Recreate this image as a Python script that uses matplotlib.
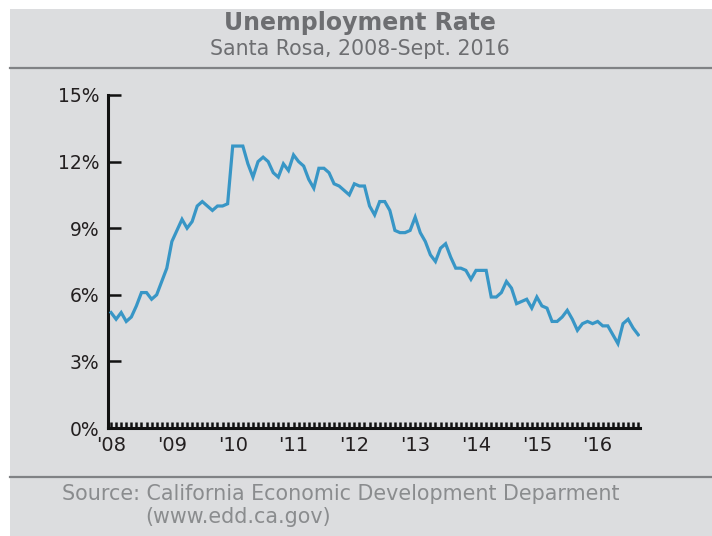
import numpy as np
import matplotlib.pyplot as plt
from matplotlib.patches import Rectangle
from matplotlib.lines import Line2D
from matplotlib.ticker import FixedLocator, FuncFormatter

# monthly unemployment rate, Santa Rosa (percent), Jan 2008 - Sep 2016
rate_2008 = [5.2, 4.9, 5.2, 4.8, 5.0, 5.5, 6.1, 6.1, 5.8, 6.0, 6.6, 7.2]
rate_2009 = [8.4, 8.9, 9.4, 9.0, 9.3, 10.0, 10.2, 10.0, 9.8, 10.0, 10.0, 10.1]
rate_2010 = [12.7, 12.7, 12.7, 11.9, 11.3, 12.0, 12.2, 12.0, 11.5, 11.3, 11.9, 11.6]
rate_2011 = [12.3, 12.0, 11.8, 11.2, 10.8, 11.7, 11.7, 11.5, 11.0, 10.9, 10.7, 10.5]
rate_2012 = [11.0, 10.9, 10.9, 10.0, 9.6, 10.2, 10.2, 9.8, 8.9, 8.8, 8.8, 8.9]
rate_2013 = [9.5, 8.8, 8.4, 7.8, 7.5, 8.1, 8.3, 7.7, 7.2, 7.2, 7.1, 6.7]
rate_2014 = [7.1, 7.1, 7.1, 5.9, 5.9, 6.1, 6.6, 6.3, 5.6, 5.7, 5.8, 5.4]
rate_2015 = [5.9, 5.5, 5.4, 4.8, 4.8, 5.0, 5.3, 4.9, 4.4, 4.7, 4.8, 4.7]
rate_2016 = [4.8, 4.6, 4.6, 4.2, 3.8, 4.7, 4.9, 4.5, 4.2]

years = [2008, 2009, 2010, 2011, 2012, 2013, 2014, 2015, 2016]
year_labels = ["'08", "'09", "'10", "'11", "'12", "'13", "'14", "'15", "'16"]
y_ticks = [0, 3, 6, 9, 12, 15]

rate = np.array(rate_2008 + rate_2009 + rate_2010 + rate_2011 + rate_2012
                + rate_2013 + rate_2014 + rate_2015 + rate_2016)
months = np.arange(len(rate))

W, H = 712, 536
plt.rcParams['font.family'] = ['DejaVu Sans']
fig = plt.figure(figsize=(W / 100, H / 100), dpi=100)
fig.patch.set_facecolor('white')


def fx(px):
    return px / W


def fy(py):
    return 1 - py / H


# gray panel and separator lines
fig.add_artist(Rectangle((fx(10), 0), 1 - fx(10), fy(9), transform=fig.transFigure,
                         facecolor='#dcdddf', edgecolor='none', zorder=0))
for yy in (68, 477):
    fig.add_artist(Line2D([fx(10), 1], [fy(yy), fy(yy)], transform=fig.transFigure,
                          color='#808285', lw=1.6, zorder=1))

title_color = '#6d6e71'
fig.text(fx(360), fy(23), 'Unemployment Rate', ha='center', va='center',
         fontsize=17, fontweight='bold', color=title_color)
fig.text(fx(360), fy(49), 'Santa Rosa, 2008-Sept. 2016', ha='center', va='center',
         fontsize=14.8, color=title_color)

src_color = '#8a8c8e'
fig.text(fx(62), fy(494), 'Source: California Economic Development Deparment',
         ha='left', va='center', fontsize=14.9, color=src_color)
fig.text(fx(145), fy(517), '(www.edd.ca.gov)', ha='left', va='center',
         fontsize=14.9, color=src_color)

# plot area
left, right, bottom, top = 108, 640, 428, 95
ax = fig.add_axes([fx(left), fy(bottom), fx(right - left), fy(top) - fy(bottom)])
ax.patch.set_alpha(0)

ax.plot(months, rate, color='#3896c6', lw=2.3, solid_joinstyle='miter', zorder=3)

ax.set_ylim(0, 15)
ax.set_xlim(-0.6, 104.35)

for s in ('top', 'right'):
    ax.spines[s].set_visible(False)
for s in ('left', 'bottom'):
    ax.spines[s].set_linewidth(2.2)
    ax.spines[s].set_color('#111111')

ax.set_yticks(y_ticks)
ax.yaxis.set_major_formatter(FuncFormatter(lambda v, p: f'{int(v)}%'))
ax.tick_params(axis='y', direction='in', length=9.5, width=1.8, color='#111111',
               labelsize=13.5, labelcolor='#231f20', pad=6)

year_pos = [(y - 2008) * 12 for y in years]
ax.set_xticks(year_pos)
ax.set_xticklabels(year_labels)
ax.xaxis.set_minor_locator(FixedLocator(np.arange(0, 105)))
ax.xaxis.remove_overlapping_locs = False
ax.tick_params(axis='x', which='major', length=0, labelsize=14,
               labelcolor='#231f20', pad=6)
ax.tick_params(axis='x', which='minor', direction='in', length=4.5, width=1.8,
               color='#111111')

fig.savefig('out.png', dpi=100, facecolor=fig.get_facecolor())
